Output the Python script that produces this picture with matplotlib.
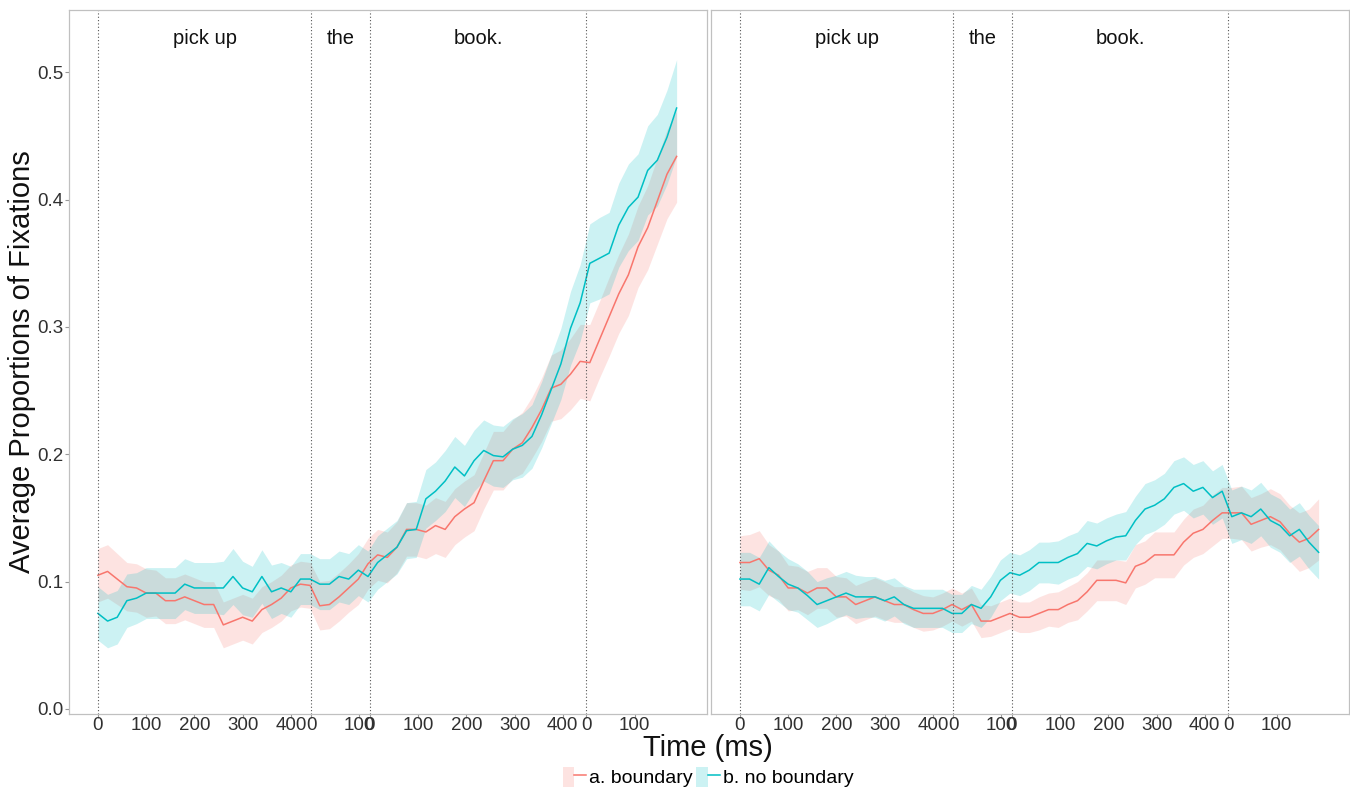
import numpy as np
import matplotlib
matplotlib.use("Agg")
import matplotlib.pyplot as plt
from matplotlib.patches import Patch
from matplotlib.lines import Line2D
from matplotlib.legend_handler import HandlerTuple

plt.rcParams['font.family'] = ['Liberation Sans', 'DejaVu Sans']

# ---------------- data ----------------
time_ms = np.arange(0, 1201, 20)

conditions = ["a. boundary", "b. no boundary"]
colors = ["#F8766D", "#00BFC4"]

word_labels = ["pick up", "the", "book."]
word_onsets = [0, 442, 564, 1013]

tick_positions = [0, 100, 200, 300, 400, 442, 542, 564, 664, 764, 864, 964, 1013, 1113]
tick_labels = ["0", "100", "200", "300", "400", "0", "100", "0", "100", "200", "300", "400", "0", "100"]

# left panel
left_boundary = [0.105, 0.108, 0.102, 0.096, 0.095, 0.091, 0.091, 0.085, 0.085, 0.088,
                 0.085, 0.082, 0.082, 0.066, 0.069, 0.072, 0.069, 0.078, 0.082, 0.087,
                 0.095, 0.098, 0.097, 0.081, 0.082, 0.088, 0.095, 0.102, 0.114, 0.121,
                 0.119, 0.127, 0.141, 0.141, 0.139, 0.144, 0.141, 0.151, 0.157, 0.162,
                 0.179, 0.195, 0.195, 0.204, 0.209, 0.221, 0.235, 0.252, 0.255, 0.263,
                 0.273, 0.272, 0.290, 0.308, 0.326, 0.341, 0.363, 0.378, 0.399, 0.420,
                 0.434]
left_boundary_se = [0.021, 0.021, 0.020, 0.019, 0.019, 0.019, 0.018, 0.018, 0.018, 0.018,
                    0.018, 0.018, 0.018, 0.018, 0.018, 0.018, 0.018, 0.018, 0.018, 0.018,
                    0.018, 0.018, 0.018, 0.019, 0.019, 0.019, 0.019, 0.020, 0.020, 0.020,
                    0.020, 0.020, 0.021, 0.021, 0.021, 0.022, 0.022, 0.022, 0.022, 0.022,
                    0.022, 0.023, 0.023, 0.023, 0.024, 0.024, 0.025, 0.026, 0.027, 0.028,
                    0.029, 0.030, 0.030, 0.031, 0.031, 0.032, 0.032, 0.033, 0.034, 0.035,
                    0.036]
left_noboundary = [0.075, 0.069, 0.072, 0.085, 0.087, 0.091, 0.091, 0.091, 0.091, 0.098,
                   0.095, 0.095, 0.095, 0.095, 0.104, 0.095, 0.092, 0.104, 0.092, 0.095,
                   0.092, 0.102, 0.102, 0.098, 0.098, 0.104, 0.102, 0.109, 0.104, 0.115,
                   0.121, 0.127, 0.140, 0.141, 0.165, 0.171, 0.179, 0.190, 0.183, 0.195,
                   0.203, 0.199, 0.198, 0.204, 0.207, 0.214, 0.231, 0.251, 0.271, 0.299,
                   0.319, 0.350, 0.354, 0.358, 0.380, 0.394, 0.402, 0.423, 0.431, 0.449,
                   0.472]
left_noboundary_se = [0.021, 0.021, 0.021, 0.021, 0.020, 0.020, 0.020, 0.020, 0.020, 0.020,
                      0.020, 0.020, 0.020, 0.021, 0.022, 0.021, 0.020, 0.021, 0.021, 0.020,
                      0.020, 0.020, 0.020, 0.020, 0.020, 0.020, 0.020, 0.020, 0.020, 0.021,
                      0.021, 0.021, 0.022, 0.022, 0.023, 0.023, 0.024, 0.024, 0.024, 0.024,
                      0.024, 0.024, 0.024, 0.024, 0.025, 0.025, 0.026, 0.027, 0.028, 0.029,
                      0.030, 0.031, 0.032, 0.032, 0.033, 0.034, 0.034, 0.035, 0.036, 0.037,
                      0.038]

# right panel
right_boundary = [0.115, 0.115, 0.118, 0.109, 0.105, 0.095, 0.095, 0.091, 0.095, 0.095,
                  0.088, 0.088, 0.082, 0.085, 0.088, 0.085, 0.082, 0.082, 0.078, 0.075,
                  0.075, 0.078, 0.082, 0.078, 0.082, 0.069, 0.069, 0.072, 0.075, 0.072,
                  0.072, 0.075, 0.078, 0.078, 0.082, 0.085, 0.092, 0.101, 0.101, 0.101,
                  0.099, 0.112, 0.115, 0.121, 0.121, 0.121, 0.131, 0.138, 0.141, 0.148,
                  0.154, 0.154, 0.154, 0.145, 0.148, 0.151, 0.147, 0.138, 0.131, 0.134,
                  0.141]
right_boundary_se = [0.021, 0.022, 0.022, 0.020, 0.019, 0.018, 0.017, 0.017, 0.016, 0.016,
                     0.016, 0.015, 0.015, 0.015, 0.015, 0.015, 0.014, 0.014, 0.014, 0.014,
                     0.013, 0.013, 0.013, 0.013, 0.013, 0.013, 0.012, 0.012, 0.012, 0.012,
                     0.012, 0.013, 0.013, 0.014, 0.014, 0.015, 0.015, 0.016, 0.016, 0.016,
                     0.017, 0.017, 0.017, 0.018, 0.018, 0.018, 0.018, 0.019, 0.019, 0.020,
                     0.020, 0.020, 0.021, 0.021, 0.021, 0.022, 0.022, 0.022, 0.023, 0.023,
                     0.024]
right_noboundary = [0.102, 0.102, 0.098, 0.111, 0.104, 0.098, 0.095, 0.089, 0.082, 0.085,
                    0.088, 0.091, 0.088, 0.088, 0.088, 0.085, 0.088, 0.082, 0.079, 0.079,
                    0.079, 0.079, 0.075, 0.075, 0.082, 0.079, 0.088, 0.101, 0.107, 0.105,
                    0.109, 0.115, 0.115, 0.115, 0.119, 0.122, 0.130, 0.128, 0.132, 0.135,
                    0.136, 0.148, 0.157, 0.160, 0.165, 0.174, 0.177, 0.171, 0.174, 0.166,
                    0.171, 0.151, 0.154, 0.151, 0.157, 0.148, 0.144, 0.136, 0.141, 0.131,
                    0.123]
right_noboundary_se = [0.021, 0.021, 0.021, 0.021, 0.020, 0.020, 0.019, 0.019, 0.018, 0.018,
                       0.017, 0.017, 0.017, 0.016, 0.016, 0.016, 0.015, 0.015, 0.015, 0.015,
                       0.015, 0.015, 0.015, 0.015, 0.015, 0.015, 0.016, 0.016, 0.016, 0.016,
                       0.016, 0.016, 0.016, 0.017, 0.017, 0.017, 0.018, 0.018, 0.018, 0.018,
                       0.019, 0.019, 0.020, 0.020, 0.020, 0.021, 0.021, 0.021, 0.021, 0.021,
                       0.021, 0.021, 0.021, 0.021, 0.021, 0.021, 0.021, 0.021, 0.021, 0.021,
                       0.021]

panels = [
    [(left_boundary, left_boundary_se), (left_noboundary, left_noboundary_se)],
    [(right_boundary, right_boundary_se), (right_noboundary, right_noboundary_se)],
]

y_ticks = [0.0, 0.1, 0.2, 0.3, 0.4, 0.5]

# ---------------- figure ----------------
W, H = 1350, 791
fig = plt.figure(figsize=(W / 100, H / 100), dpi=100)

def px_axes(x0, x1, y0, y1):
    return fig.add_axes([x0 / W, 1 - y1 / H, (x1 - x0) / W, (y1 - y0) / H])

axes = [px_axes(69, 707, 10, 714), px_axes(711, 1349, 10, 714)]

tick_color = "#303030"
frame_color = "#c0c0c0"

for i, ax in enumerate(axes):
    for (mean, se), col in zip(panels[i], colors):
        m = np.array(mean)
        s = np.array(se)
        ax.fill_between(time_ms, m - s, m + s, color=col, alpha=0.2, linewidth=0)
        ax.plot(time_ms, m, color=col, lw=1.1)
    for b in word_onsets:
        ax.axvline(b, color="#555555", lw=0.8, ls=(0, (1, 2)))
    for j, w in enumerate(word_labels):
        xm = (word_onsets[j] + word_onsets[j + 1]) / 2
        ax.text(xm, 0.527, w, ha="center", va="center", fontsize=14.5, color="#111111")
    ax.set_xlim(-60, 1263)
    ax.set_ylim(-0.004, 0.549)
    ax.set_xticks(tick_positions)
    ax.set_xticklabels(tick_labels)
    ax.set_yticks(y_ticks)
    ax.tick_params(axis="both", colors="#999999", labelcolor=tick_color,
                   labelsize=13.5, length=3, width=0.8)
    ax.tick_params(axis="x", pad=-1)
    ax.tick_params(axis="y", pad=1)
    for sp in ax.spines.values():
        sp.set_color(frame_color)
        sp.set_linewidth(0.9)
    if i == 0:
        ax.set_yticklabels([f"{v:.1f}" for v in y_ticks])
    else:
        ax.tick_params(axis="y", left=False, labelleft=False)

fig.text(708 / W, 1 - 748 / H, "Time (ms)", ha="center", va="center", fontsize=21, color="#111111")
fig.text(22 / W, 1 - 362 / H, "Average Proportions of Fixations", ha="center", va="center",
         rotation=90, fontsize=21, color="#111111")

handles = [(Patch(facecolor=c, alpha=0.2, edgecolor="none"), Line2D([], [], color=c, lw=1.1))
           for c in colors]
fig.legend(handles, conditions, loc="center", bbox_to_anchor=(708 / W, 1 - 777 / H),
           ncol=2, frameon=False, fontsize=14, handlelength=1.2, handleheight=1.2,
           handletextpad=0.15, columnspacing=0.2,
           handler_map={tuple: HandlerTuple(ndivide=None, pad=0)})

fig.savefig("out.png", dpi=100)
